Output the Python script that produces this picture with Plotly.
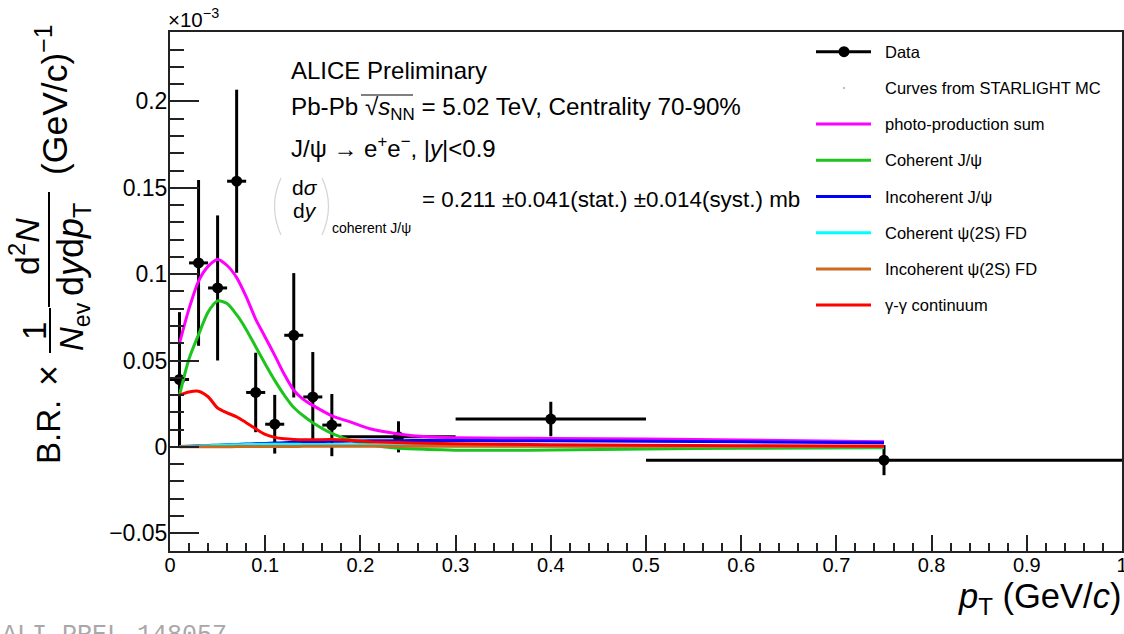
import plotly.graph_objects as go

# ---- measured J/psi yield (x10^-3), pT bins in GeV/c ----
pt_data = [0.01, 0.03, 0.05, 0.07, 0.09, 0.11, 0.13, 0.15, 0.17, 0.24, 0.40, 0.75]
pt_halfwidth = [0.01, 0.01, 0.01, 0.01, 0.01, 0.01, 0.01, 0.01, 0.01, 0.06, 0.10, 0.25]
yield_data = [0.039, 0.1065, 0.092, 0.1538, 0.0315, 0.0131, 0.0646, 0.0289, 0.0126, 0.0058, 0.0161, -0.0077]
yield_err = [0.039, 0.048, 0.042, 0.053, 0.023, 0.017, 0.036, 0.026, 0.018, 0.009, 0.010, 0.0087]

# ---- STARLIGHT MC curves (x10^-3) ----
pt_mc = [0.01, 0.02, 0.03, 0.04, 0.05, 0.06, 0.07, 0.08, 0.09, 0.10, 0.11, 0.12, 0.13,
         0.14, 0.15, 0.17, 0.19, 0.21, 0.24, 0.27, 0.30, 0.35, 0.40, 0.50, 0.60, 0.75]
photo_sum = [0.060, 0.080, 0.096, 0.1045, 0.1085, 0.105, 0.098, 0.087, 0.074, 0.0635, 0.053, 0.042, 0.0328,
             0.0275, 0.024, 0.018, 0.0143, 0.0105, 0.0075, 0.0058, 0.0052, 0.0050, 0.0049, 0.0045, 0.0040, 0.0029]
coh_jpsi = [0.030, 0.051, 0.065, 0.078, 0.0845, 0.083, 0.0765, 0.068, 0.058, 0.048, 0.0385, 0.030, 0.0228,
            0.018, 0.014, 0.0078, 0.0038, 0.0012, -0.0008, -0.0015, -0.0019, -0.0020, -0.0018, -0.0012, -0.0008, -0.0005]
incoh_jpsi = [0.0002, 0.0004, 0.0006, 0.0008, 0.0010, 0.0012, 0.0014, 0.0016, 0.0018, 0.0020, 0.0022, 0.0024, 0.0026,
              0.0028, 0.0030, 0.0032, 0.0034, 0.0035, 0.0036, 0.0037, 0.0037, 0.0036, 0.0035, 0.0032, 0.0029, 0.0024]
coh_psi2s = [0.0001, 0.0003, 0.0005, 0.0007, 0.0009, 0.0011, 0.0012, 0.0013, 0.0014, 0.0015, 0.0015, 0.0015, 0.0015,
             0.0014, 0.0014, 0.0013, 0.0012, 0.0011, 0.0010, 0.0008, 0.0007, 0.0005, 0.0004, 0.0003, 0.0002, 0.0001]
incoh_psi2s = [0.00002, 0.00004, 0.00006, 0.00008, 0.0001, 0.00012, 0.00014, 0.00016, 0.00018, 0.0002, 0.00022, 0.00024, 0.00026,
               0.00028, 0.0003, 0.00032, 0.00034, 0.00036, 0.00038, 0.0004, 0.0004, 0.0004, 0.0004, 0.0004, 0.0004, 0.0004]
gamma_gamma = [0.030, 0.0318, 0.0322, 0.029, 0.0225, 0.0197, 0.0174, 0.014, 0.0105, 0.0072, 0.0055, 0.0047, 0.0043,
               0.0041, 0.0041, 0.0042, 0.0037, 0.0030, 0.0025, 0.0021, 0.0018, 0.0015, 0.0012, 0.0009, 0.0007, 0.0004]

x_ticks = [0, 0.1, 0.2, 0.3, 0.4, 0.5, 0.6, 0.7, 0.8, 0.9, 1.0]
x_ticktext = ["0", "0.1", "0.2", "0.3", "0.4", "0.5", "0.6", "0.7", "0.8", "0.9", "1"]
y_ticks = [-0.05, 0, 0.05, 0.1, 0.15, 0.2]
y_ticktext = ["\u22120.05", "0", "0.05", "0.1", "0.15", "0.2"]

legend_entries = ["Data", "Curves from STARLIGHT MC", "photo-production sum", "Coherent J/\u03c8",
                  "Incoherent J/\u03c8", "Coherent \u03c8(2S) FD", "Incoherent \u03c8(2S) FD", "\u03b3-\u03b3 continuum"]

curves = [
    (photo_sum, "#ff00ff"),
    (coh_jpsi, "#1ec41e"),
    (incoh_jpsi, "#0000ff"),
    (coh_psi2s, "#00ffff"),
    (incoh_psi2s, "#cc6a1f"),
    (gamma_gamma, "#ff0000"),
]

FONT = "Liberation Sans, Arial, Helvetica, sans-serif"
WIDTH, HEIGHT = 1124, 634
L, R, T, B = 170, 1122, 32, 551


def fx(px):
    return (px - L) / (R - L)


def fy(py):
    return (B - py) / (B - T)


fig = go.Figure()

fig.add_trace(go.Scatter(
    x=pt_data, y=yield_data, mode="markers",
    marker=dict(color="black", size=11),
    error_x=dict(type="data", array=pt_halfwidth, color="black", thickness=3, width=0),
    error_y=dict(type="data", array=yield_err, color="black", thickness=3, width=0),
    showlegend=False, cliponaxis=True,
))

for vals, col in curves:
    fig.add_trace(go.Scatter(
        x=pt_mc, y=vals, mode="lines",
        line=dict(color=col, width=3, shape="spline", smoothing=0.7),
        showlegend=False,
    ))

annotations = []
shapes = []


def text(s, px, py, size, xanchor="left", yanchor="middle", angle=0, color="black", family=FONT):
    annotations.append(dict(
        text=s, x=fx(px), y=fy(py), xref="paper", yref="paper",
        xanchor=xanchor, yanchor=yanchor, showarrow=False, textangle=angle,
        font=dict(family=family, size=size, color=color),
    ))


def pline(x0, y0, x1, y1, color="black", width=2):
    shapes.append(dict(type="line", xref="paper", yref="paper",
                       x0=fx(x0), y0=fy(y0), x1=fx(x1), y1=fy(y1),
                       line=dict(color=color, width=width)))


# header text
text("ALICE Preliminary", 289, 70, 24)
text("Pb-Pb \u221a<i>s</i><sub>NN</sub> = 5.02 TeV, Centrality 70-90%", 289, 108, 24.2)
pline(361, 95, 413, 95, width=1.2)  # bar of the square root
text("J/\u03c8 \u2192 e<sup>+</sup>e<sup>\u2212</sup>, |<i>y</i>|&lt;0.9", 289, 147, 24)
text("d<i>\u03c3</i>", 305, 188, 21, xanchor="center")
text("d<i>y</i>", 305, 210, 21, xanchor="center")
text("coherent J/\u03c8", 330, 228, 14)
text("= 0.211 \u00b10.041(stat.) \u00b10.014(syst.) mb", 420, 200, 22.4)

# faint parentheses around the cross-section fraction
for xa, xc in ((281, 268), (322, 335)):
    shapes.append(dict(type="path", xref="paper", yref="paper",
                       path=f"M {fx(xa)},{fy(178)} Q {fx(xc)},{fy(206)} {fx(xa)},{fy(235)}",
                       line=dict(color="#d4d4d4", width=1.2)))

# exponent of the y axis
text("\u00d710<sup>\u22123</sup>", 166, 33, 20.5, yanchor="bottom")

# y axis title, assembled from rotated pieces
text("B.R.", 48, 432, 33, xanchor="center", angle=-90)
text("\u00d7", 48, 376, 36, xanchor="center", angle=-90)
text("1", 34, 331, 33, xanchor="center", angle=-90)
pline(50, 308, 50, 353)
text("<i>N</i><sub>ev</sub>", 74, 327, 33, xanchor="center", angle=-90)
text("d<sup>2</sup><i>N</i>", 24, 247, 34, xanchor="center", angle=-90)
pline(49, 192, 49, 307)
text("d<i>y</i>d<i>p</i><sub>T</sub>", 73, 250, 36, xanchor="center", angle=-90)
text("(GeV/c)<sup>\u22121</sup>", 53, 100, 35.5, xanchor="center", angle=-90)

# x axis title
text("<i>p</i><sub>T</sub> (GeV/<i>c</i>)", 1123, 598, 34.5, xanchor="right")

# preliminary figure id
text("ALI-PREL-148057", 0, 619, 25, yanchor="top", color="#a8a8a8",
     family="Liberation Mono, Courier New, monospace")

# legend
leg_y = [51.7, 87.9, 124.1, 160.3, 196.5, 232.7, 268.9, 305.1]
leg_colors = [None, None, "#ff00ff", "#1ec41e", "#0000ff", "#00ffff", "#cc6a1f", "#ff0000"]
for name, yy, col in zip(legend_entries, leg_y, leg_colors):
    if name == "Data":
        pline(816, yy, 871, yy, color="black", width=3)
        shapes.append(dict(type="circle", xref="paper", yref="paper",
                           x0=fx(838.5), x1=fx(849.5), y0=fy(yy - 5.5), y1=fy(yy + 5.5),
                           fillcolor="black", line=dict(color="black", width=0)))
    elif col is None:
        shapes.append(dict(type="circle", xref="paper", yref="paper",
                           x0=fx(843), x1=fx(845), y0=fy(yy - 1), y1=fy(yy + 1),
                           fillcolor="#aaaaaa", line=dict(color="#aaaaaa", width=0)))
    else:
        pline(816, yy, 871, yy, color=col, width=3)
    text(name, 883, yy, 16.5)

axis_common = dict(
    showgrid=False, zeroline=False, showline=True, linecolor="#222222", linewidth=2,
    mirror=True, ticks="inside", tickcolor="#222222", tickwidth=1.5,
)

fig.update_layout(
    width=WIDTH, height=HEIGHT,
    margin=dict(l=L, r=WIDTH - R, t=T, b=HEIGHT - B, autoexpand=False),
    paper_bgcolor="white", plot_bgcolor="white",
    showlegend=False,
    xaxis=dict(range=[0, 1], tickvals=x_ticks, ticktext=x_ticktext, ticklen=16,
               ticklabelstandoff=-5, ticklabeloverflow="allow",
               tickfont=dict(family=FONT, size=20, color="black"),
               minor=dict(dtick=0.02, tick0=0, ticks="inside", ticklen=8, tickcolor="#222222", tickwidth=1.5),
               **axis_common),
    yaxis=dict(range=[-0.0603, 0.2402], tickvals=y_ticks, ticktext=y_ticktext, ticklen=29,
               ticklabelstandoff=-4,
               tickfont=dict(family=FONT, size=23, color="black"),
               minor=dict(dtick=0.01, tick0=0, ticks="inside", ticklen=14, tickcolor="#222222", tickwidth=1.5),
               **axis_common),
    annotations=annotations,
    shapes=shapes,
)

fig.write_html("out.html")
